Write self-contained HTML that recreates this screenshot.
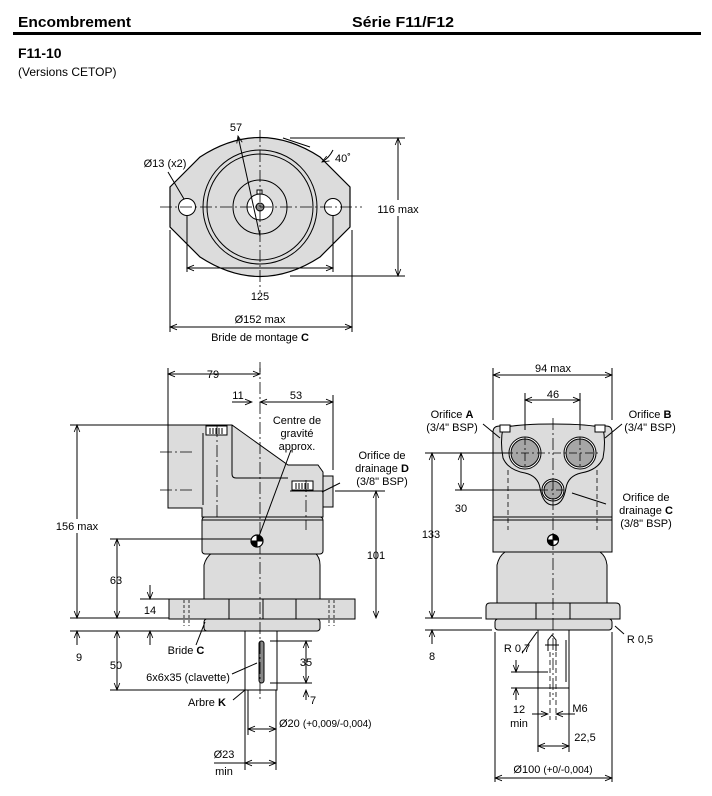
<!DOCTYPE html>
<html><head><meta charset="utf-8"><style>
html,body{margin:0;padding:0;background:#fff;}
svg{display:block;font-family:"Liberation Sans",sans-serif;}
</style></head><body>
<svg width="712" height="796" viewBox="0 0 712 796" xmlns="http://www.w3.org/2000/svg">
<defs>
<marker id="a" viewBox="0 0 10 10" refX="10" refY="5" markerWidth="9" markerHeight="7" orient="auto-start-reverse" markerUnits="userSpaceOnUse"><path d="M0,1 L10,5 L0,9" fill="none" stroke="#000" stroke-width="1.2"/></marker>
</defs>
<g font-size="15" font-weight="bold" fill="#000">
<text x="18" y="27" textLength="113" lengthAdjust="spacingAndGlyphs">Encombrement</text>
<text x="352" y="27" textLength="102" lengthAdjust="spacingAndGlyphs">Série F11/F12</text>
<text x="18" y="58" font-size="14">F11-10</text>
</g>
<rect x="13" y="32" width="688" height="3" fill="#000"/>
<text x="18" y="76" font-size="12">(Versions CETOP)</text>

<g stroke="#000" stroke-width="1" fill="none" font-size="11">
<!-- TOP VIEW -->
<path d="M170,187 L200,157 Q260,118 320,157 L350,187 L350,227 L320,257 Q260,296 200,257 L170,227 Z" fill="#dcdcdc" stroke-width="1.2"/>
<circle cx="187" cy="207" r="8.5" fill="#fff"/>
<circle cx="333" cy="207" r="8.5" fill="#fff"/>
<circle cx="260" cy="207" r="57"/>
<circle cx="260" cy="207" r="53"/>
<circle cx="260" cy="207" r="27"/>
<circle cx="260" cy="207" r="13" fill="#fff"/>
<circle cx="260" cy="207" r="4" fill="#888"/>
<rect x="257" y="190" width="5" height="4" fill="#fff"/>
<path d="M160,207 H362 M260,130 V292" stroke-dasharray="12,3,2,3" stroke-width="0.8"/>
<path d="M187,215 V272 M333,215 V272 M170,230 V332 M352,230 V332"/>
<path d="M187,268 H333" marker-start="url(#a)" marker-end="url(#a)"/>
<path d="M170,327 H352" marker-start="url(#a)" marker-end="url(#a)"/>
<path d="M290,138 H405 M290,276 H405"/>
<path d="M398,138 V276" marker-start="url(#a)" marker-end="url(#a)"/>
<rect x="374" y="200" width="48" height="16" fill="#fff" stroke="none"/>
<path d="M238,136 L260,236" marker-start="url(#a)"/>
<path d="M168,172 L184,199"/>
<path d="M333,150 Q329,158 322,162" marker-end="url(#a)"/>
<path d="M283,138 L310,147"/>
</g>
<g font-size="11" text-anchor="middle">
<text x="236" y="131">57</text>
<text x="165" y="167">Ø13 (x2)</text>
<text x="343" y="162">40˚</text>
<text x="398" y="213">116 max</text>
<text x="260" y="300">125</text>
<text x="260" y="323">Ø152 max</text>
<text x="260" y="341">Bride de montage <tspan font-weight="bold">C</tspan></text>
</g>

<!-- SIDE VIEW -->
<g stroke="#000" stroke-width="1" fill="#dcdcdc">
<rect x="245" y="631" width="32" height="59" fill="#fff"/>
<rect x="204" y="619" width="116" height="12" rx="3"/>
<rect x="169" y="599" width="186" height="20"/>
<path d="M204,599 V565 Q206,557 212,553 H315 Q320,557 320,565 V599 Z"/>
<rect x="202" y="517" width="121" height="37" rx="3"/>
<path d="M168,425 H232 L288,465 H318 L323,472 V517 H202 V508 H168 Z"/>
<path d="M323,476 H333 V507 H323 Z"/>
<path d="M203,433 V505 M232,425 V474 Q232,478 236,478 H288 M290,491 H323" fill="none"/>
<rect x="206" y="426" width="21" height="9" fill="#fff"/>
<rect x="292" y="481" width="21" height="9" fill="#fff"/>
<path d="M210,428V434M213,428V434M216,428V434M219,428V434M222,428V434M296,483V489M299,483V489M302,483V489M305,483V489M308,483V489" fill="none"/>
<path d="M202,520 H323" fill="none"/>
<path d="M263,599 V619 M229,599 V619 M296,599 V619" fill="none"/>
<rect x="259" y="641" width="5" height="42" rx="2.5" fill="#888"/>
</g>
<g stroke="#000" stroke-width="0.8" fill="none">
<path d="M260,362 V700" stroke-dasharray="12,3,2,3"/>
<path d="M160,452 H195 M160,490 H195 M217,425 V520 M306,480 V530" stroke-dasharray="12,3,2,3"/>
<path d="M184,600 V626 M189,600 V626 M329,600 V626 M334,600 V626" stroke-dasharray="3,2"/>
</g>
<g stroke="#000" stroke-width="1" fill="none">
<path d="M168,368 V425 M260,368 V372"/>
<path d="M168,374 H260" marker-start="url(#a)" marker-end="url(#a)"/>
<path d="M232,402 H252" marker-end="url(#a)"/>
<path d="M260,402 H333" marker-start="url(#a)" marker-end="url(#a)"/>
<path d="M333,395 V470"/>
<path d="M70,425 H168 M70,618 H169 M70,631 H245 M110,539 H252 M110,690 H245 M110,575 M140,599 H169"/>
<path d="M77,425 V618" marker-start="url(#a)" marker-end="url(#a)"/>
<path d="M117,539 V618" marker-start="url(#a)" marker-end="url(#a)"/>
<path d="M150,585 V599" marker-end="url(#a)"/>
<path d="M150,645 V631" marker-end="url(#a)"/>
<path d="M77,645 V631" marker-end="url(#a)"/>
<path d="M117,631 V690" marker-start="url(#a)" marker-end="url(#a)"/>
<path d="M335,491 H385"/>
<path d="M376,491 V618" marker-start="url(#a)" marker-end="url(#a)"/>
<path d="M270,641 H312 M270,683 H312"/>
<path d="M306,641 V683" marker-start="url(#a)" marker-end="url(#a)"/>
<path d="M306,700 V690" marker-end="url(#a)"/>
<path d="M248,690 V735 M276,690 V770 M245,690 V770"/>
<path d="M248,729 H276" marker-start="url(#a)" marker-end="url(#a)"/>
<path d="M214,763 H245 M245,763 H276" marker-end="url(#a)"/>
<path d="M276,763 H245" marker-end="url(#a)"/>
<path d="M258,539 L291,450"/>
<path d="M322,492 L340,483"/>
<path d="M196,645 L205,622"/>
<path d="M232,674 L257,663"/>
<path d="M233,700 L245,690"/>
<circle cx="257" cy="541" r="6" fill="#fff" stroke-width="1.2"/>
<path d="M257,541 V535 A6,6 0 0 1 263,541 Z M257,541 V547 A6,6 0 0 1 251,541 Z" fill="#000"/>
</g>
<g font-size="11" text-anchor="middle">
<text x="213" y="378">79</text>
<text x="238" y="399">11</text>
<text x="296" y="399">53</text>
<text x="297" y="424">Centre de</text>
<text x="297" y="437">gravité</text>
<text x="297" y="450">approx.</text>
<text x="382" y="459">Orifice de</text>
<text x="382" y="472">drainage <tspan font-weight="bold">D</tspan></text>
<text x="382" y="485">(3/8" BSP)</text>
<text x="77" y="530" fill="#000"><tspan>156 max</tspan></text>
<text x="116" y="584">63</text>
<text x="150" y="614">14</text>
<text x="376" y="559">101</text>
<text x="79" y="661">9</text>
<text x="116" y="669">50</text>
<text x="186" y="654">Bride <tspan font-weight="bold">C</tspan></text>
<text x="188" y="681">6x6x35 (clavette)</text>
<text x="207" y="706">Arbre <tspan font-weight="bold">K</tspan></text>
<text x="306" y="666">35</text>
<text x="313" y="704">7</text>
<text x="224" y="758">Ø23</text>
<text x="224" y="775">min</text>
<text x="279" y="727" text-anchor="start">Ø20 <tspan font-size="10">(+0,009/-0,004)</tspan></text>
</g>
<rect x="52" y="519" width="48" height="14" fill="#fff"/>
<text x="77" y="530" font-size="11" text-anchor="middle">156 max</text>

<!-- RIGHT VIEW -->
<g stroke="#000" stroke-width="1" fill="#dcdcdc">
<rect x="538" y="630" width="31" height="58" fill="#fff"/>
<rect x="495" y="619" width="117" height="11" rx="3"/>
<path d="M486,607 Q486,603 490,603 H616 Q620,603 620,607 V619 H486 Z"/>
<path d="M497,603 V565 Q499,556 505,552 H600 Q606,556 607,565 V603 Z"/>
<rect x="493" y="517" width="119" height="35"/>
<path d="M493,517 V432 Q493,426 500,426 H606 Q612,426 612,432 V517 Z"/>
<path d="M503,428 Q500,442 503,458 Q508,470 525,473 Q538,476 540,488 Q543,505 553,505 Q563,505 566,488 Q568,476 581,473 Q598,470 603,458 Q606,442 603,428 Q590,424 553,424 Q516,424 503,428 Z" fill="#dcdcdc"/>
<circle cx="525" cy="453" r="16" fill="#fff"/>
<circle cx="525" cy="453" r="14" fill="#a6a6a6"/>
<circle cx="580" cy="453" r="16" fill="#fff"/>
<circle cx="580" cy="453" r="14" fill="#a6a6a6"/>
<circle cx="553" cy="490" r="11" fill="#fff"/>
<circle cx="553" cy="490" r="9" fill="#a6a6a6"/>
<path d="M493,520 H612 M536,603 V619 M570,603 V619" fill="none"/>
<rect x="500" y="425" width="10" height="7" fill="#fff"/>
<rect x="595" y="425" width="10" height="7" fill="#fff"/>
<path d="M548,651 V640 L552,635 L556,640 V651 M545,645 H559" fill="none"/>
<path d="M566,640 V682" fill="none"/>
</g>
<g stroke="#000" stroke-width="0.8" fill="none">
<path d="M553,418 V700" stroke-dasharray="12,3,2,3"/>
<path d="M505,453 H600 M540,490 H566 M525,437 V469 M580,437 V469" stroke-dasharray="8,3,2,3"/>
<path d="M508,470 V530 M597,470 V530 M550,652 V720 M556,652 V720" stroke-dasharray="5,3"/>
</g>
<g stroke="#000" stroke-width="1" fill="none">
<path d="M493,368 V420 M612,368 V420"/>
<path d="M493,375 H612" marker-start="url(#a)" marker-end="url(#a)"/>
<path d="M525,393 V430 M580,393 V430"/>
<path d="M525,400 H580" marker-start="url(#a)" marker-end="url(#a)"/>
<path d="M425,453 H510 M455,490 H540 M425,618 H482 M425,630 H492"/>
<path d="M432,453 V618" marker-start="url(#a)" marker-end="url(#a)"/>
<path d="M461,453 V490" marker-start="url(#a)" marker-end="url(#a)"/>
<path d="M432,644 V630" marker-end="url(#a)"/>
<path d="M495,632 V782 M612,632 V782 M538,688 V752 M569,688 V752"/>
<path d="M495,778 H612" marker-start="url(#a)" marker-end="url(#a)"/>
<path d="M538,746 H569" marker-start="url(#a)" marker-end="url(#a)"/>
<path d="M511,672 H548 M511,688 H538"/>
<path d="M516,660 V672" marker-end="url(#a)"/>
<path d="M516,700 V688" marker-end="url(#a)"/>
<path d="M532,714 H548 M556,714 H575" />
<path d="M532,714 H548" marker-end="url(#a)"/>
<path d="M575,714 H556" marker-end="url(#a)"/>
<path d="M522,653 L537,632"/>
<path d="M615,626 L624,634"/>
<path d="M483,424 L500,438 M622,424 L605,438 M572,493 L606,504"/>
<circle cx="553" cy="540" r="5.5" fill="#fff" stroke-width="1.2"/>
<path d="M553,540 V534.5 A5.5,5.5 0 0 1 558.5,540 Z M553,540 V545.5 A5.5,5.5 0 0 1 547.5,540 Z" fill="#000"/>
</g>
<g font-size="11" text-anchor="middle">
<text x="553" y="372">94 max</text>
<text x="553" y="398">46</text>
<text x="452" y="418">Orifice <tspan font-weight="bold">A</tspan></text>
<text x="452" y="431">(3/4" BSP)</text>
<text x="650" y="418">Orifice <tspan font-weight="bold">B</tspan></text>
<text x="650" y="431">(3/4" BSP)</text>
<text x="646" y="501">Orifice de</text>
<text x="646" y="514">drainage <tspan font-weight="bold">C</tspan></text>
<text x="646" y="527">(3/8" BSP)</text>
<text x="461" y="512">30</text>
<text x="431" y="538">133</text>
<text x="432" y="660">8</text>
<text x="640" y="643">R 0,5</text>
<text x="517" y="652">R 0,7</text>
<text x="519" y="713">12</text>
<text x="519" y="727">min</text>
<text x="580" y="712">M6</text>
<text x="585" y="741">22,5</text>
<text x="553" y="773">Ø100 <tspan font-size="10">(+0/-0,004)</tspan></text>
</g>
</svg>
</body></html>
